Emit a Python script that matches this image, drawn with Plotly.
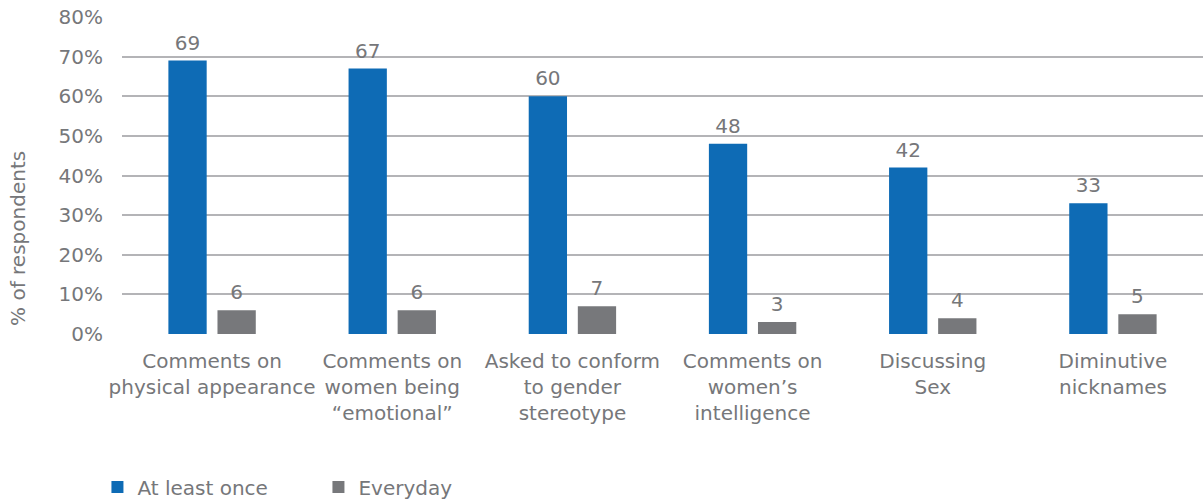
import plotly.graph_objects as go

categories = [
    "Comments on<br>physical appearance",
    "Comments on<br>women being<br>“emotional”",
    "Asked to conform<br>to gender<br>stereotype",
    "Comments on<br>women’s<br>intelligence",
    "Discussing<br>Sex",
    "Diminutive<br>nicknames",
]
at_least_once = [69, 67, 60, 48, 42, 33]
everyday = [6, 6, 7, 3, 4, 5]
y_ticks = [0, 10, 20, 30, 40, 50, 60, 70, 80]
y_tick_labels = [f"{v}%" for v in y_ticks]
y_title = "% of respondents"

BLUE = "#0e6bb5"
GREY = "#77787b"
TEXT = "#76777a"
GRID = "#b4b4b7"
FONT = "'DejaVu Sans', sans-serif"
SIZE = 20

series = [("At least once", at_least_once, BLUE), ("Everyday", everyday, GREY)]

fig = go.Figure()
for name, vals, color in series:
    fig.add_trace(go.Bar(
        name=name, x=categories, y=vals, offsetgroup=name,
        marker=dict(color=color, line=dict(width=0)),
    ))
# value labels, grouped with the bars so they sit above each one
for name, vals, color in series:
    fig.add_trace(go.Scatter(
        x=categories, y=vals, offsetgroup=name, mode="markers+text",
        marker=dict(size=8, opacity=0),
        text=[str(v) for v in vals], textposition="top center",
        textfont=dict(size=SIZE, color=TEXT, family=FONT),
        showlegend=False, hoverinfo="skip", cliponaxis=False,
    ))

fig.update_layout(
    width=1203, height=502,
    margin=dict(l=122, r=0, t=17, b=168),
    paper_bgcolor="white", plot_bgcolor="white",
    font=dict(family=FONT, size=SIZE, color=TEXT),
    barmode="group", bargap=0.455, bargroupgap=0.22,
    scattermode="group",
    showlegend=True,
    legend=dict(
        orientation="h", xref="container", yref="container",
        x=0.081, y=0.03, xanchor="left", yanchor="middle",
        font=dict(size=SIZE, color=TEXT, family=FONT),
        entrywidth=176, entrywidthmode="pixels",
        itemsizing="constant", traceorder="normal",
    ),
    annotations=[dict(
        text=y_title, textangle=-90, showarrow=False,
        xref="paper", yref="paper", x=-0.0962, y=0.30,
        xanchor="center", yanchor="middle",
        font=dict(size=SIZE, color=TEXT, family=FONT),
    )],
)
fig.update_yaxes(
    range=[0, 80], tickvals=y_ticks, ticktext=y_tick_labels,
    showgrid=True, gridcolor=GRID, gridwidth=2,
    zeroline=False, showline=False, ticks="", ticklabelstandoff=18,
    tickfont=dict(size=SIZE, color=TEXT, family=FONT),
)
fig.update_xaxes(
    showgrid=False, showline=False, ticks="", zeroline=False,
    tickfont=dict(size=SIZE, color=TEXT, family=FONT), ticklabelstandoff=13,
    tickangle=0,
)

fig.write_html("out.html")
